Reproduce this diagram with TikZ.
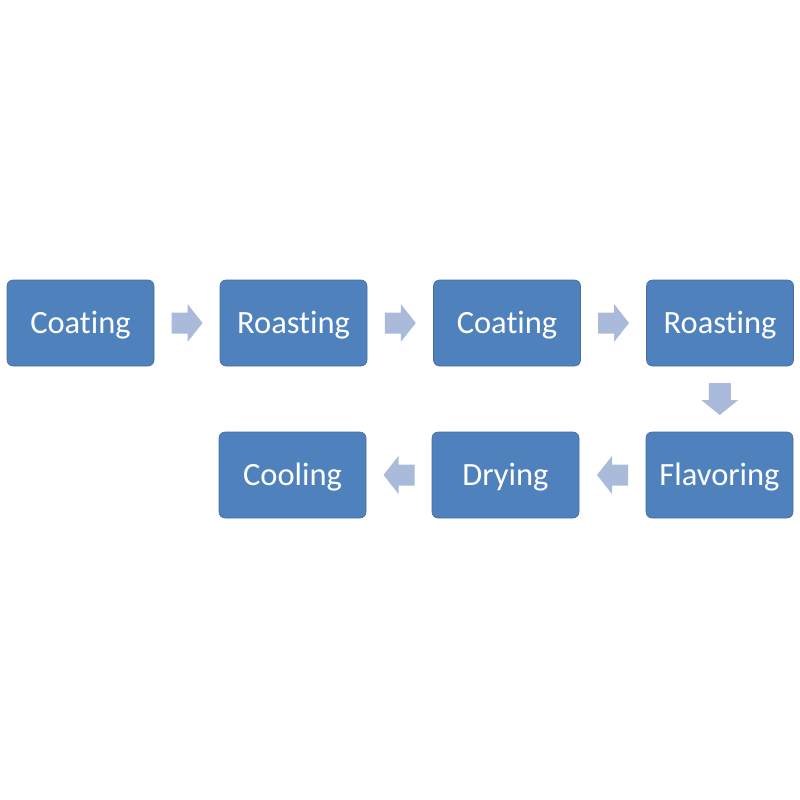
\documentclass[tikz,border=0pt]{standalone}
\usepackage{fontspec}
\setmainfont[RawFeature={-liga;-clig;-calt}]{Carlito}
\definecolor{boxblue}{HTML}{4F81BD}
\definecolor{arrowblue}{HTML}{A9BADA}
\begin{document}
\begin{tikzpicture}[x=1pt,y=-1pt,
  stepbox/.style={fill=boxblue,draw=boxblue!85!black,line width=0.6pt,rounded corners=6pt,minimum width=147pt,minimum height=86pt,inner sep=0pt,text height=22pt,text depth=2pt,text=white,font=\fontsize{32.5}{38}\selectfont},
  blockarrow/.style={fill=arrowblue,draw=none}]
\useasboundingbox (0,0) rectangle (800,800);
\node[stepbox] (b1) at (80.5,323) {Coat\kern0pt ing};
\node[stepbox] (b2) at (293.5,323) {Roast\kern0pt ing};
\node[stepbox] (b3) at (507,323) {Coat\kern0pt ing};
\node[stepbox] (b4) at (720,323) {Roast\kern0pt ing};
\node[stepbox] (b5) at (719.5,475) {Flavoring};
\node[stepbox] (b6) at (505.5,475) {Drying};
\node[stepbox] (b7) at (292.5,475) {Cooling};
% right arrows
\foreach \a/\b in {b1/b2,b2/b3,b3/b4}{
  \path (\a.east) -- (\b.west) coordinate[pos=0.5] (m\a);
  \fill[blockarrow] ([shift={(-15.5,-10.5)}]m\a) -- ++(16,0) -- ++(0,-8.5) -- ++(15,19) -- ++(-15,19) -- ++(0,-8.5) -- ++(-16,0) -- cycle;
}
% down arrow
\path (b4.south) -- (b5.north) coordinate[pos=0.5] (mdown);
\fill[blockarrow] ([shift={(-11,-16)}]mdown) -- ++(22,0) -- ++(0,17) -- ++(7.5,0) -- ++(-18.5,15) -- ++(-18.5,-15) -- ++(7.5,0) -- cycle;
% left arrows
\foreach \a/\b in {b5/b6,b6/b7}{
  \path (\a.west) -- (\b.east) coordinate[pos=0.5] (m\a);
  \fill[blockarrow] ([shift={(15.5,-10.5)}]m\a) -- ++(-16,0) -- ++(0,-8.5) -- ++(-15,19) -- ++(15,19) -- ++(0,-8.5) -- ++(16,0) -- cycle;
}
\end{tikzpicture}
\end{document}
